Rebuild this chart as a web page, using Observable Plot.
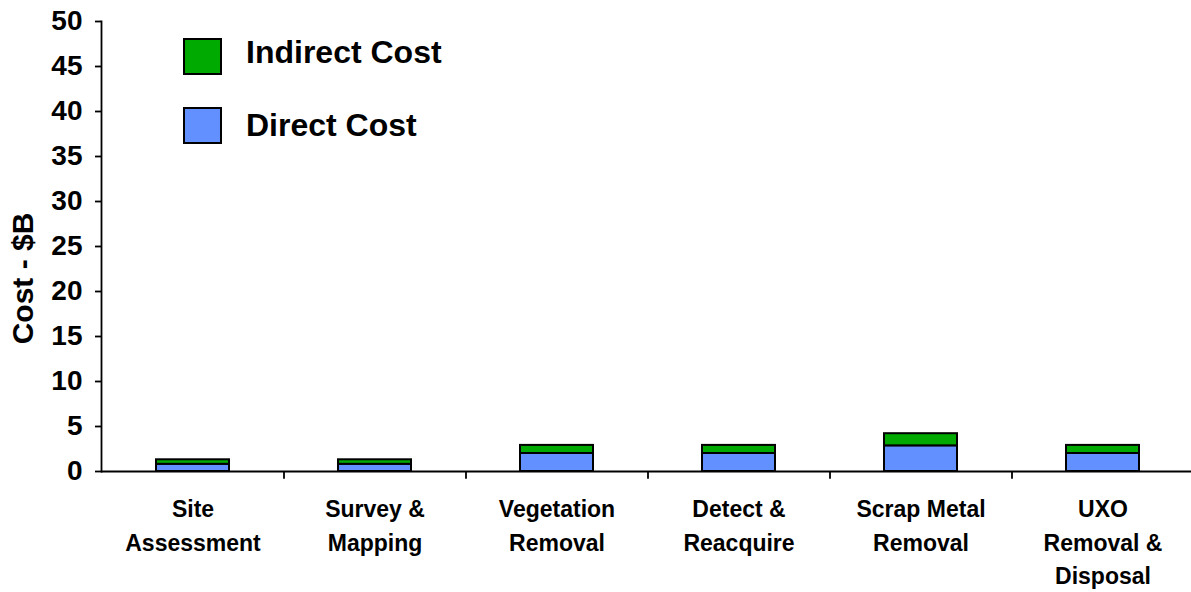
<!DOCTYPE html>
<html>
<head>
<meta charset="utf-8">
<script src="https://cdn.jsdelivr.net/npm/d3@7"></script>
<script src="https://cdn.jsdelivr.net/npm/@observablehq/plot@0.6"></script>
<style>
  html, body { margin: 0; padding: 0; background: #fff; }
  #wrap { position: relative; width: 1191px; height: 592px; font-family: "Liberation Sans", Arial, sans-serif; overflow: hidden; }
  .leg { position: absolute; display: flex; align-items: center; font-weight: bold; font-size: 32px; color: #000; }
  .leg span { position: relative; }
  .sw { width: 35px; height: 33px; border: 2px solid #000; box-sizing: content-box; margin-right: 24px; }
</style>
</head>
<body>
<div id="wrap"></div>
<script>
const categories = ["Site\nAssessment", "Survey &\nMapping", "Vegetation\nRemoval", "Detect &\nReacquire", "Scrap Metal\nRemoval", "UXO\nRemoval &\nDisposal"];
const directCost = [0.8, 0.8, 2.0, 2.0, 2.85, 2.0];
const indirectCost = [0.5, 0.5, 0.9, 0.9, 1.35, 0.9];
const seriesNames = ["Direct Cost", "Indirect Cost"];
const seriesColors = ["#6390FF", "#00AA00"];
const yTicks = [0, 5, 10, 15, 20, 25, 30, 35, 40, 45, 50];

const rows = [];
categories.forEach((c, i) => rows.push({cat: c, series: seriesNames[0], value: directCost[i]}));
categories.forEach((c, i) => rows.push({cat: c, series: seriesNames[1], value: indirectCost[i]}));

const W = 1191, H = 592;
const xRange = [101, 1193];
const step = (xRange[1] - xRange[0]) / categories.length;
const font = "'Liberation Sans', Arial, sans-serif";

const chart = Plot.plot({
  width: W,
  height: H,
  marginTop: 21,
  marginBottom: 121,
  marginLeft: 101,
  marginRight: 0,
  style: {fontFamily: font, background: "#fff", color: "#000", overflow: "visible"},
  x: {domain: categories, range: xRange, paddingInner: 0.6, paddingOuter: 0.3},
  y: {domain: [0, 50]},
  color: {domain: seriesNames, range: seriesColors},
  marks: [
    Plot.barY(rows, Plot.stackY({x: "cat", y: "value", fill: "series", order: seriesNames, stroke: "#000", strokeWidth: 2})),
    Plot.ruleY([0], {stroke: "#000", strokeWidth: 1.8}),
    Plot.frame({anchor: "left", stroke: "#000", strokeWidth: 1.8}),
    Plot.ruleX(categories.slice(0, -1), {x: d => d, y1: 0, y2: -0.85, dx: step / 2, stroke: "#000", strokeWidth: 1.8}),
    Plot.axisX({tickSize: 0, tickPadding: 22, fontSize: 23, fontWeight: "bold", lineHeight: 1.45, label: null}),
    Plot.axisY({ticks: yTicks, tickSize: 6, tickPadding: 13, fontSize: 28, fontWeight: "bold", strokeWidth: 1.8,
      label: "Cost - $B", labelAnchor: "center", labelArrow: "none", labelOffset: 90})
  ]
});
chart.querySelectorAll("text").forEach(t => t.setAttribute("fill", "#000"));
const wrap = document.getElementById("wrap");
wrap.appendChild(chart);
chart.querySelectorAll("g[aria-label='y-axis label'] text").forEach(t => {
  t.setAttribute("font-size", "30");
  t.setAttribute("font-weight", "bold");
  const tr = t.getAttribute("transform") || "";
  t.setAttribute("transform", tr + " translate(-32,0)");
});

// legend (HTML overlay)
const legendItems = [
  {name: "Indirect Cost", color: seriesColors[1], top: 38, shift: -4},
  {name: "Direct Cost", color: seriesColors[0], top: 107, shift: 0}
];
legendItems.forEach(it => {
  const d = document.createElement("div");
  d.className = "leg";
  d.style.left = "183px";
  d.style.top = it.top + "px";
  const sw = document.createElement("div");
  sw.className = "sw";
  sw.style.background = it.color;
  d.appendChild(sw);
  const s = document.createElement("span");
  s.textContent = it.name;
  s.style.top = it.shift + "px";
  d.appendChild(s);
  wrap.appendChild(d);
});
</script>
</body>
</html>
